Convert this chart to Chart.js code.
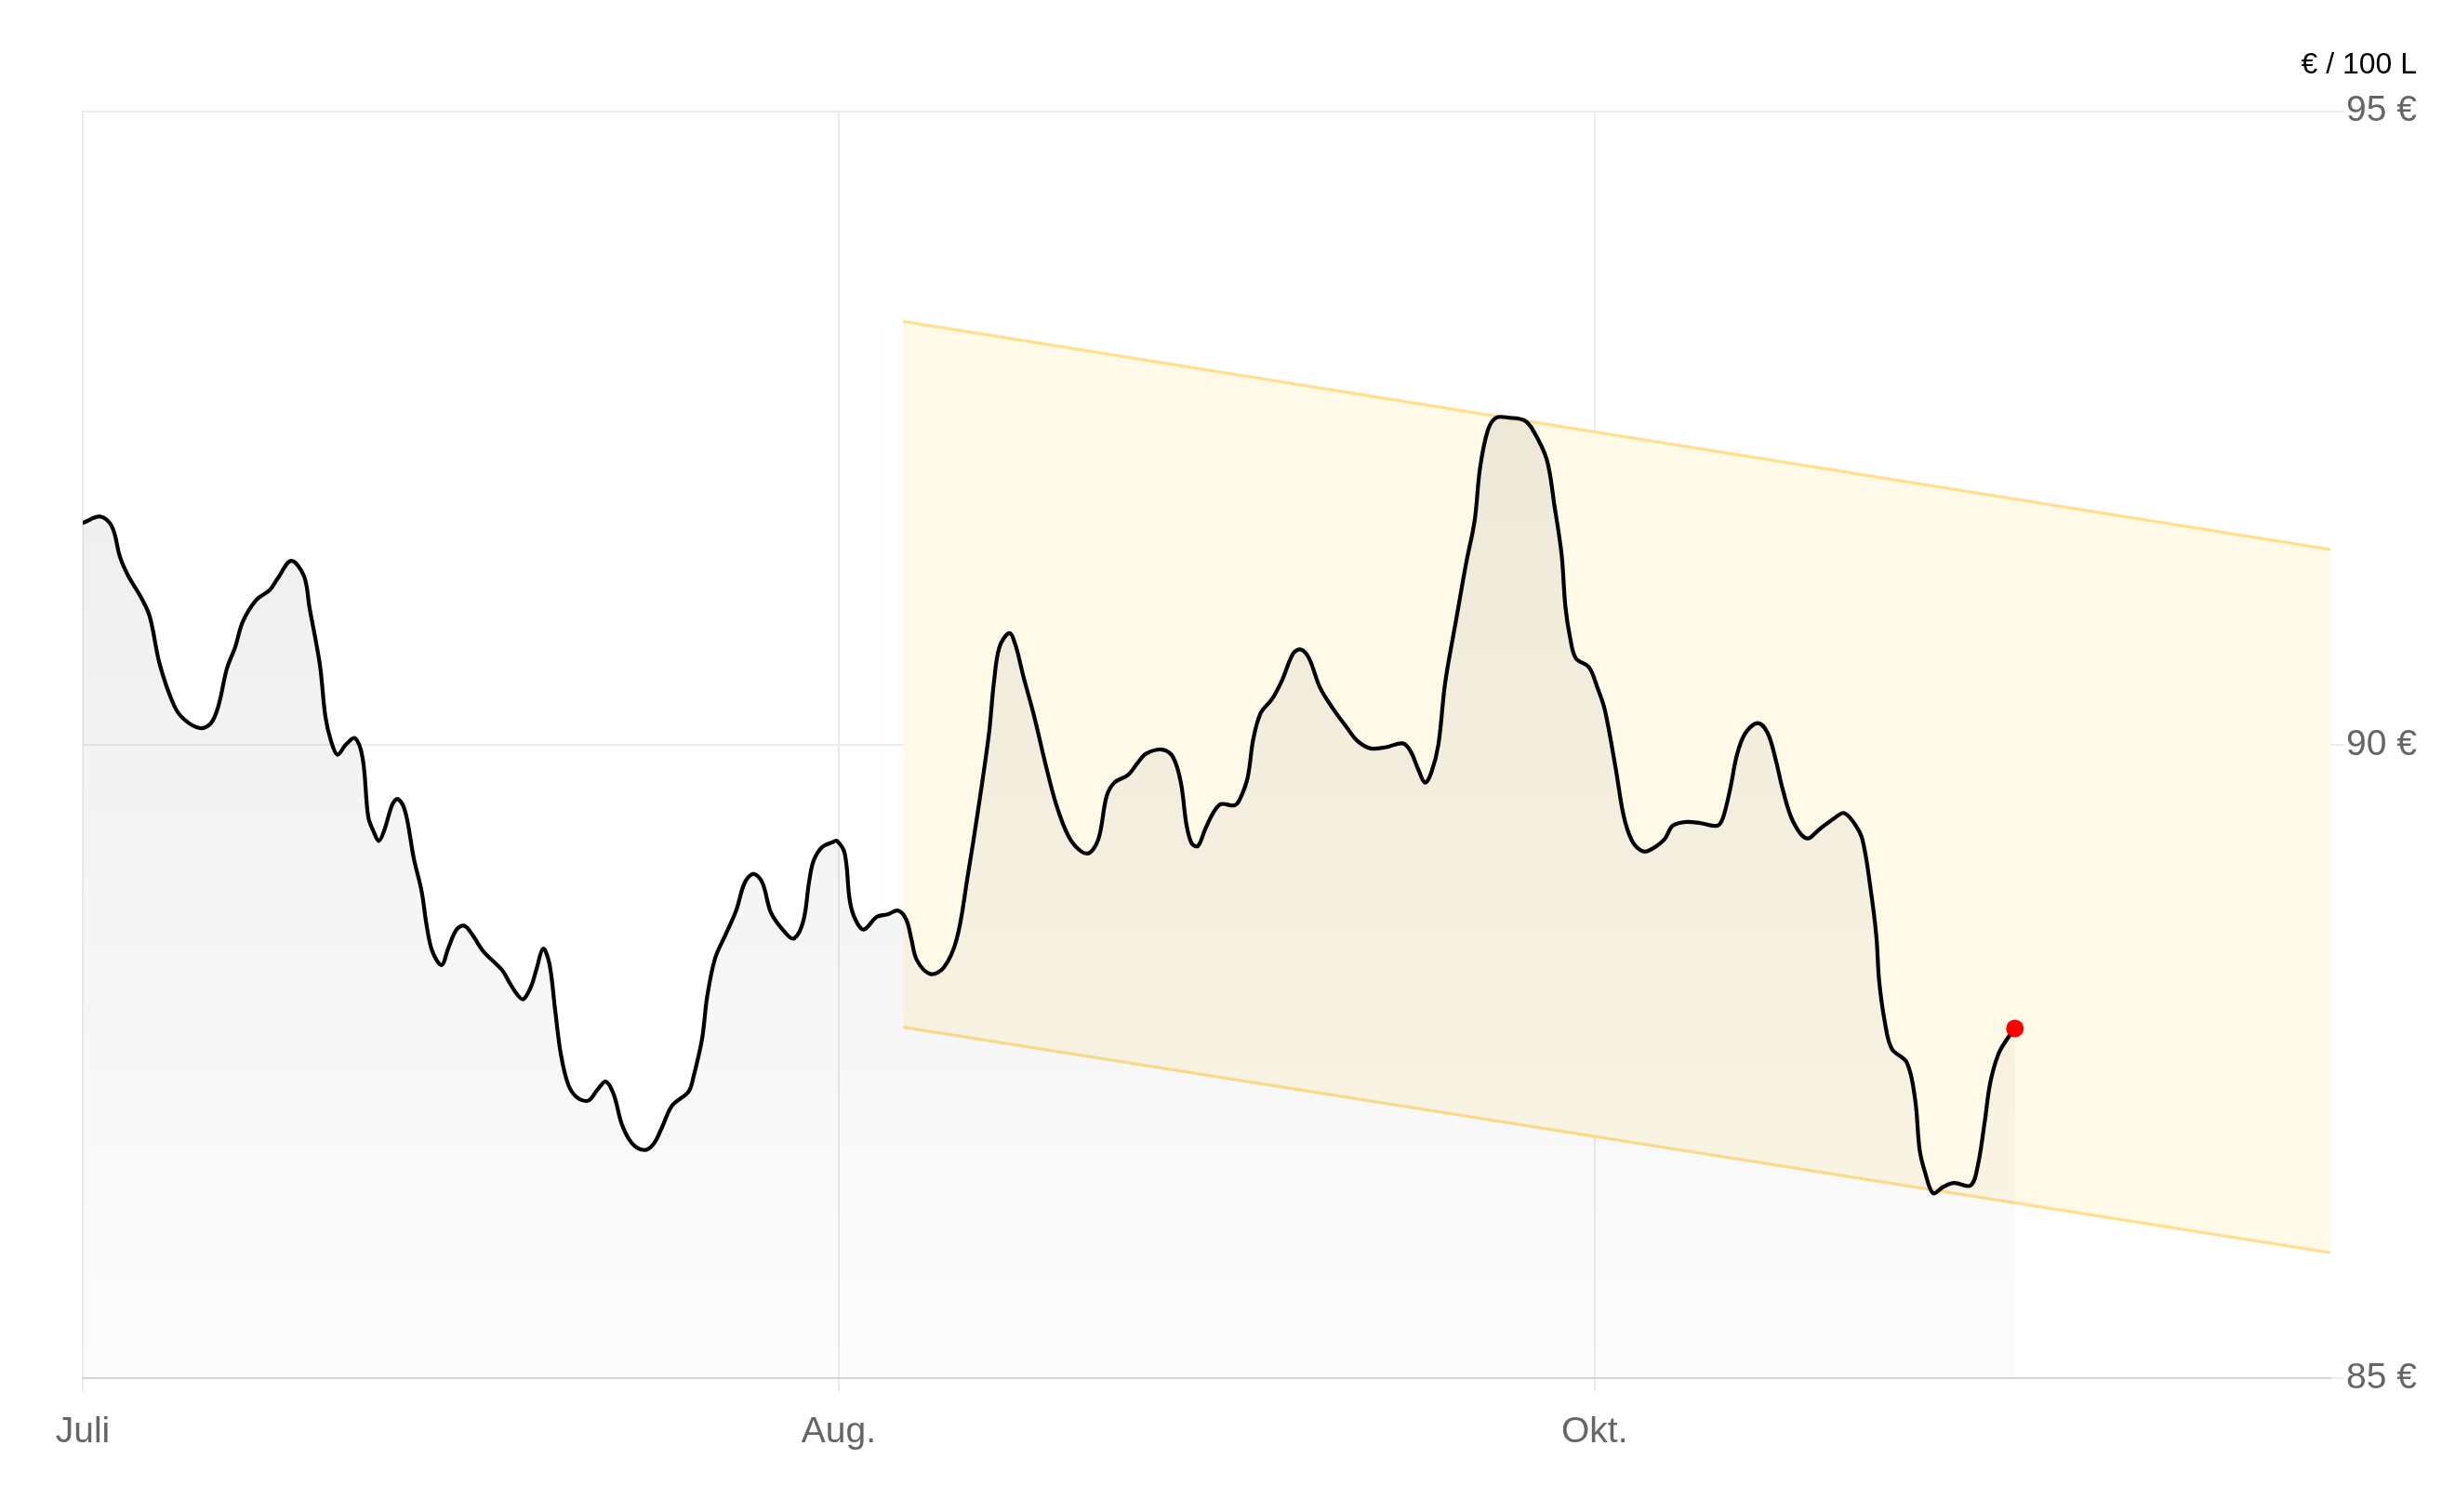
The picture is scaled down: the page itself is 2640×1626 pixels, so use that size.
<!DOCTYPE html>
<html>
<head>
<meta charset="utf-8">
<script src="https://cdn.jsdelivr.net/npm/chart.js@4.4.1/dist/chart.umd.min.js"></script>
<style>
  html, body { margin: 0; padding: 0; background: #ffffff; }
  #wrap { width: 2640px; height: 1626px; position: relative; }
</style>
</head>
<body>
<div id="wrap"><canvas id="c" width="2640" height="1626"></canvas></div>
<script>
// ---- data ----
const unitLabel = '€ / 100 L';
const tickPositions = [0, 30, 60];
const tickLabels = ['Juli', 'Aug.', 'Okt.'];
const yTicks = [85, 90, 95];

const priceX = [
  0, 0.70, 1.16, 1.48, 1.81, 2.32, 2.66, 3.06, 3.62, 4.02, 4.65, 5.09, 5.39, 5.72, 6.05, 6.35, 6.88, 7.42, 7.73, 8.27,
  8.78, 9.00, 9.41, 9.63, 9.85, 10.11, 10.44, 10.81, 11.11, 11.33, 11.55, 11.75, 11.96, 12.29, 12.51, 12.80, 13.14, 13.45, 13.65, 13.87,
  14.24, 14.50, 14.83, 15.14, 15.46, 15.89, 16.64, 16.94, 17.23, 17.48, 17.79, 18.01, 18.27, 18.52, 18.75, 18.97, 19.26, 19.59, 20.06, 20.44,
  20.76, 21.07, 21.40, 21.81, 22.29, 22.66, 22.99, 23.39, 24.04, 24.24, 24.58, 24.78, 25.09, 25.51, 25.93, 26.27, 26.62, 26.97, 27.32, 27.86,
  28.23, 28.60, 28.82, 29.00, 29.34, 29.76, 29.93, 30.24, 30.44, 30.66, 30.99, 31.51, 31.94, 32.36, 32.68, 32.88, 33.10, 33.63, 34.17, 34.69,
  35.11, 35.53, 35.96, 36.16, 36.38, 36.77, 37.01, 37.34, 37.75, 38.29, 38.71, 39.23, 39.86, 40.30, 40.63, 40.94, 41.48, 41.88, 42.21, 42.84,
  43.27, 43.58, 43.80, 44.01, 44.26, 44.54, 44.86, 45.17, 45.70, 45.90, 46.23, 46.45, 46.75, 47.20, 47.60, 48.04, 48.34, 48.67, 49.10, 49.63,
  50.15, 50.58, 51.11, 51.73, 52.38, 52.69, 53.01, 53.27, 53.52, 53.80, 54.07, 54.50, 54.90, 55.24, 55.45, 55.76, 56.09, 56.61, 57.20, 57.56,
  58.10, 58.41, 58.69, 58.84, 59.04, 59.26, 59.78, 60.11, 60.41, 60.83, 61.15, 61.46, 61.79, 62.10, 62.76, 63.10, 63.65, 64.21, 64.87, 65.09,
  65.38, 65.65, 65.98, 66.48, 66.87, 67.20, 67.46, 67.86, 68.41, 68.97, 69.52, 69.89, 70.30, 70.63, 70.96, 71.18, 71.29, 71.51, 71.79, 72.39,
  72.72, 72.90, 73.12, 73.43, 73.84, 74.27, 74.92, 75.20, 75.48, 75.70, 76.03, 76.42, 76.68
];
const priceY = [
  91.75, 91.80, 91.72, 91.48, 91.33, 91.16, 91.01, 90.63, 90.31, 90.20, 90.13, 90.17, 90.31, 90.60, 90.77, 90.97, 91.14, 91.22, 91.31, 91.45,
  91.33, 91.08, 90.63, 90.22, 90.03, 89.92, 90.00, 90.05, 89.89, 89.43, 89.31, 89.24, 89.32, 89.53, 89.57, 89.47, 89.10, 88.84, 88.57, 88.37,
  88.26, 88.39, 88.54, 88.57, 88.50, 88.37, 88.22, 88.12, 88.03, 87.99, 88.09, 88.23, 88.39, 88.27, 87.90, 87.56, 87.32, 87.22, 87.19, 87.28,
  87.34, 87.24, 87.00, 86.85, 86.80, 86.85, 86.98, 87.15, 87.26, 87.38, 87.68, 88.01, 88.31, 88.50, 88.69, 88.91, 88.98, 88.91, 88.67, 88.52,
  88.47, 88.61, 88.91, 89.08, 89.19, 89.23, 89.24, 89.14, 88.77, 88.62, 88.54, 88.64, 88.66, 88.69, 88.62, 88.47, 88.30, 88.19, 88.24, 88.47,
  88.95, 89.48, 90.08, 90.49, 90.77, 90.88, 90.79, 90.53, 90.23, 89.78, 89.48, 89.24, 89.14, 89.25, 89.59, 89.70, 89.76, 89.86, 89.93, 89.96,
  89.90, 89.70, 89.37, 89.22, 89.20, 89.33, 89.46, 89.53, 89.52, 89.56, 89.74, 90.04, 90.25, 90.36, 90.51, 90.72, 90.75, 90.68, 90.45, 90.28,
  90.14, 90.03, 89.97, 89.98, 90.01, 89.95, 89.80, 89.70, 89.78, 90.00, 90.49, 90.98, 91.43, 91.77, 92.18, 92.48, 92.58, 92.58, 92.56, 92.48,
  92.25, 91.88, 91.50, 91.09, 90.83, 90.68, 90.61, 90.45, 90.27, 89.82, 89.44, 89.25, 89.17, 89.16, 89.25, 89.36, 89.39, 89.38, 89.36, 89.42,
  89.65, 89.92, 90.09, 90.17, 90.09, 89.87, 89.65, 89.40, 89.26, 89.34, 89.42, 89.46, 89.38, 89.25, 88.85, 88.49, 88.14, 87.82, 87.60, 87.49,
  87.20, 86.80, 86.62, 86.46, 86.51, 86.54, 86.52, 86.67, 87.02, 87.33, 87.56, 87.69, 87.76
];

const bandX = [32.56, 89.2];
const bandUpper = [93.34, 91.54];
const bandLower = [87.77, 85.99];

const xMin = 0, xMax = 89.2, yMin = 85, yMax = 95;

// ---- build ----
const FONT = "'Liberation Sans', Arial, Helvetica, sans-serif";
const pricePts = priceX.map((x, i) => ({ x: x, y: priceY[i] }));
const upperPts = bandX.map((x, i) => ({ x: x, y: bandUpper[i] }));
const lowerPts = bandX.map((x, i) => ({ x: x, y: bandLower[i] }));
const lastIdx = pricePts.length - 1;

const unitPlugin = {
  id: 'unitLabel',
  afterDraw(chart) {
    const ctx = chart.ctx;
    ctx.save();
    ctx.font = '32px ' + FONT;
    ctx.fillStyle = '#000000';
    ctx.textAlign = 'right';
    ctx.textBaseline = 'alphabetic';
    ctx.fillText(unitLabel, 2599, 79);
    ctx.restore();
  }
};

new Chart(document.getElementById('c'), {
  type: 'line',
  data: {
    datasets: [
      {
        data: pricePts,
        borderColor: '#000000',
        borderWidth: 4.2,
        borderJoinStyle: 'round',
        borderCapStyle: 'round',
        tension: 0.35,
        pointRadius: (ctx) => ctx.dataIndex === lastIdx ? 9.5 : 0,
        pointBackgroundColor: '#ff0000',
        pointBorderWidth: 0,
        pointHoverRadius: 0,
        fill: 'start',
        backgroundColor: (ctx) => {
          const ca = ctx.chart.chartArea;
          if (!ca) return 'rgba(0,0,0,0.05)';
          const g = ctx.chart.ctx.createLinearGradient(0, ca.top, 0, ca.bottom);
          g.addColorStop(0, 'rgba(0,0,0,0.085)');
          g.addColorStop(1, 'rgba(0,0,0,0.012)');
          return g;
        }
      },
      {
        data: upperPts,
        borderColor: '#ffe08f',
        borderWidth: 3.2,
        pointRadius: 0,
        fill: false
      },
      {
        data: lowerPts,
        borderColor: '#ffe08f',
        borderWidth: 3.2,
        pointRadius: 0,
        fill: '-1',
        backgroundColor: '#fff9e8'
      }
    ]
  },
  options: {
    responsive: false,
    devicePixelRatio: 1,
    animation: false,
    events: [],
    layout: { padding: { left: 89, top: 119.5, right: 0, bottom: 0 } },
    plugins: { legend: { display: false }, tooltip: { enabled: false } },
    scales: {
      x: {
        type: 'linear',
        min: xMin,
        max: xMax,
        afterBuildTicks: (s) => { s.ticks = tickPositions.map(v => ({ value: v })); },
        afterFit: (s) => { s.height = 144; },
        ticks: {
          callback: (v) => { const i = tickPositions.indexOf(v); return i >= 0 ? tickLabels[i] : ''; },
          font: { family: FONT, size: 39 },
          color: '#666666',
          padding: 20,
          maxRotation: 0,
          autoSkip: false
        },
        grid: { color: '#ececf0', lineWidth: 2, tickLength: 15 },
        border: { color: '#d5d5da', width: 2 }
      },
      y: {
        type: 'linear',
        position: 'right',
        min: yMin,
        max: yMax,
        afterBuildTicks: (s) => { s.ticks = yTicks.map(v => ({ value: v })); },
        afterFit: (s) => { s.width = 134; },
        ticks: {
          callback: (v) => v + ' €',
          font: { family: FONT, size: 39 },
          color: '#666666',
          padding: 2
        },
        grid: { color: '#ececf0', lineWidth: 2, tickLength: 15 },
        border: { display: false }
      }
    }
  },
  plugins: [unitPlugin]
});
</script>
</body>
</html>
